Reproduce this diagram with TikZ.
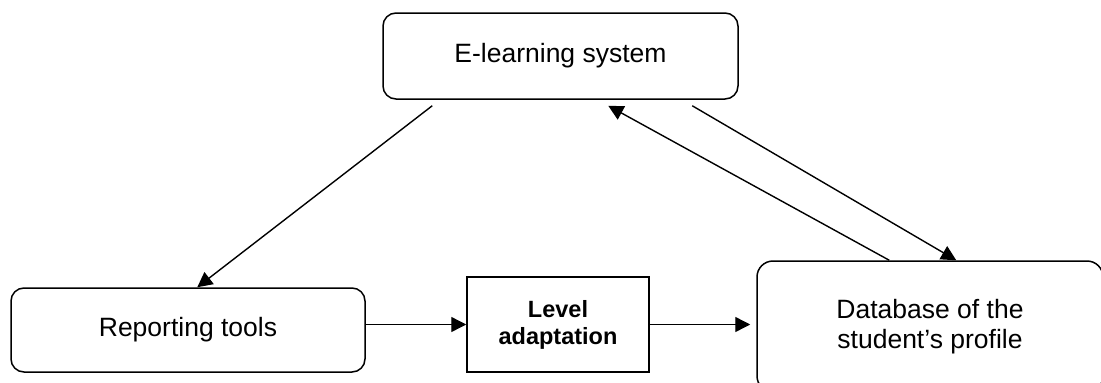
\documentclass[tikz,border=0pt]{standalone}
\usepackage{fontspec}
\setmainfont{Liberation Sans}
\usetikzlibrary{arrows.meta,calc}
\tikzset{
  box/.style={draw, line width=1.5pt, align=center, inner sep=0pt, font=\fontsize{26.5}{30}\selectfont},
  rbox/.style={box, rounded corners=13pt},
  sbox/.style={box, font=\fontsize{23.5}{27}\selectfont\bfseries},
  link/.style={line width=1.4pt, -{Triangle[length=15pt,width=15pt]}},
}
\begin{document}
\begin{tikzpicture}[x=1pt,y=-1pt]
\useasboundingbox (0,0) rectangle (1101,383);
\clip (0,0) rectangle (1101,383);
\node[rbox, minimum width=355pt, minimum height=86pt] (el) at (560.5,56) {E-learning system};
\node[rbox, minimum width=354pt, minimum height=84pt] (rep) at (188,330) {Reporting tools};
\node[sbox, minimum width=182pt, minimum height=95pt] (lev) at (558,324.5) {Level\\adaptation};
\node[rbox, rounded corners=16pt, minimum width=346pt, minimum height=131pt] (db) at (930,326.5) {Database of the\\student’s profile};
\draw[link] ($(el.south west)+(50,6)$) -- ($(rep.north west)+(187,0)$);
\draw[link] ($(db.north west)+(133,0)$) -- ($(el.south west)+(226,6)$);
\draw[link] ($(el.south west)+(310,6)$) -- ($(db.north west)+(200,0)$);
\draw[link] (rep.east |- lev.west) -- (lev.west);
\draw[link, shorten >=6pt] (lev.east) -- (db.west |- lev.east);
\end{tikzpicture}
\end{document}
